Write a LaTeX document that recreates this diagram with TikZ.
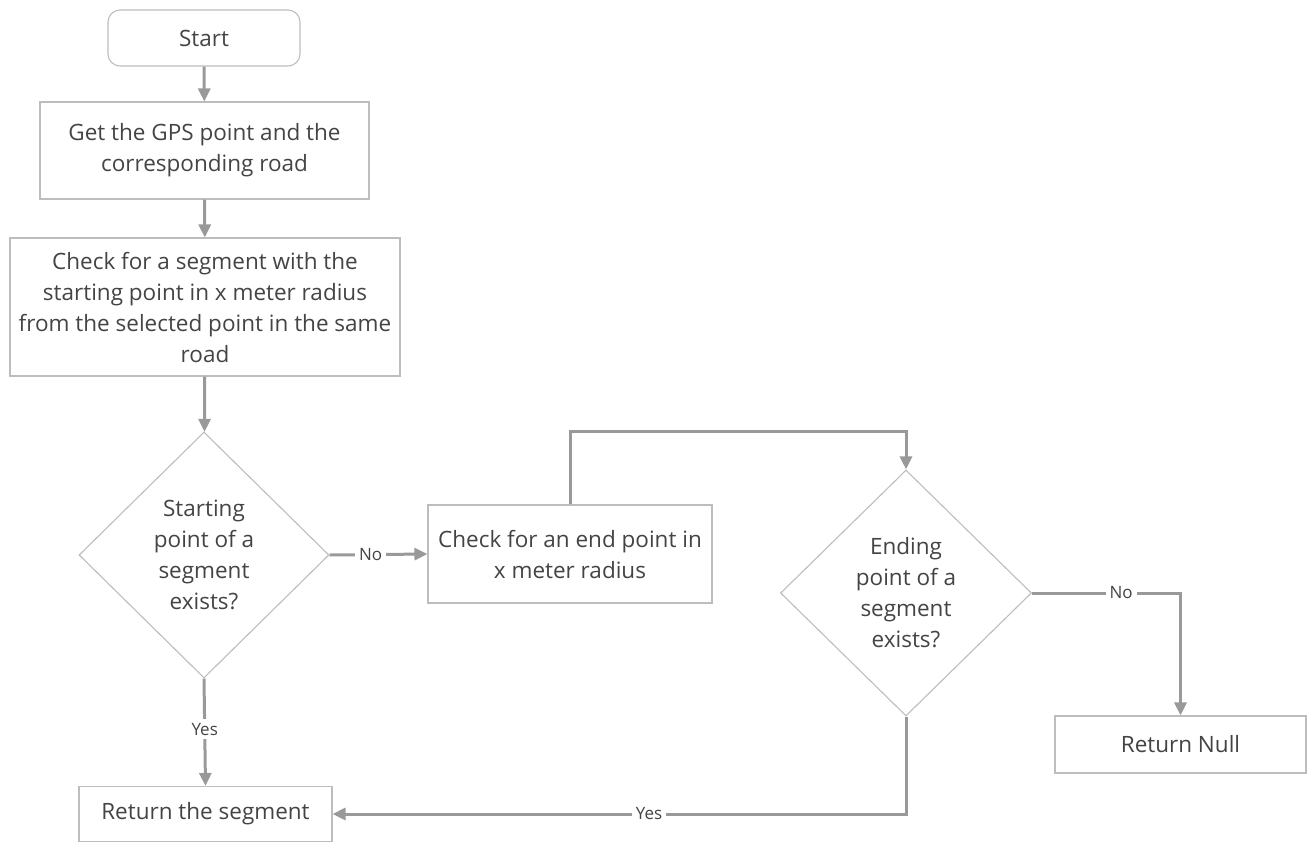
\documentclass[tikz,border=0pt]{standalone}
\usepackage{fontspec}
\setmainfont{Open Sans}
\usetikzlibrary{shapes.geometric,arrows.meta}
\definecolor{edgegray}{HTML}{999999}
\definecolor{boxgray}{HTML}{BDBDBD}
\definecolor{txtgray}{HTML}{444444}
\tikzset{
  box/.style={draw=boxgray, line width=1.1pt, fill=white, text=txtgray,
    align=center, inner sep=0pt, font=\fontsize{22.5}{31}\selectfont},
  roundbox/.style={box, rounded corners=12pt},
  decision/.style={box, diamond, aspect=1},
  flow/.style={draw=edgegray, line width=3pt,
    -{Triangle[length=13pt,width=12pt]}},
  lab/.style={fill=white, text=txtgray, inner sep=4pt,
    font=\fontsize{17}{20}\selectfont}
}
\begin{document}
\begin{tikzpicture}[x=1pt,y=-1pt]
\useasboundingbox (0,0) rectangle (1307,841);

% process steps
\node[roundbox, minimum width=192pt, minimum height=56pt] (start) at (204,38) {Start};
\node[box, minimum width=329pt, minimum height=97pt] (gps) at (204.5,150.5)
  {Get the GPS point and the\\corresponding road};
\node[box, minimum width=390pt, minimum height=138pt] (check) at (205,307)
  {Check for a segment with the\\starting point in x meter radius\\from the selected point in the same\\road};
\node[decision, minimum width=250pt, minimum height=246pt] (d1) at (204,555)
  {Starting\\point of a\\segment\\exists?};
\node[box, minimum width=284pt, minimum height=98pt] (endchk) at (570,554)
  {Check for an end point in\\x meter radius};
\node[decision, minimum width=251pt, minimum height=246pt] (d2) at (906,593)
  {Ending\\point of a\\segment\\exists?};
\node[box, minimum width=251pt, minimum height=57pt] (rnull) at (1180.5,744.5)
  {Return Null};
\node[box, minimum width=253pt, minimum height=55pt] (rseg) at (205.5,814)
  {Return the segment};

% connectors
\draw[flow] (start) -- (gps);
\draw[flow] (gps) -- (check);
\draw[flow] (check) -- (d1);
\draw[flow] (d1.east) -- node[lab, pos=0.42] {No} (endchk.west);
\draw[flow] (endchk.north) -- ++(0,-73) -| (d2.north);
\draw[flow] (d2.east) -- node[lab, pos=0.6] {No} (d2.east -| rnull.north) -- (rnull.north);
\draw[flow] (d1.south) -- node[lab, pos=0.47] {Yes} (rseg.north);
\draw[flow] (d2.south) -- (d2.south |- rseg.east) -- node[lab, pos=0.448] {Yes} (rseg.east);
\end{tikzpicture}
\end{document}
